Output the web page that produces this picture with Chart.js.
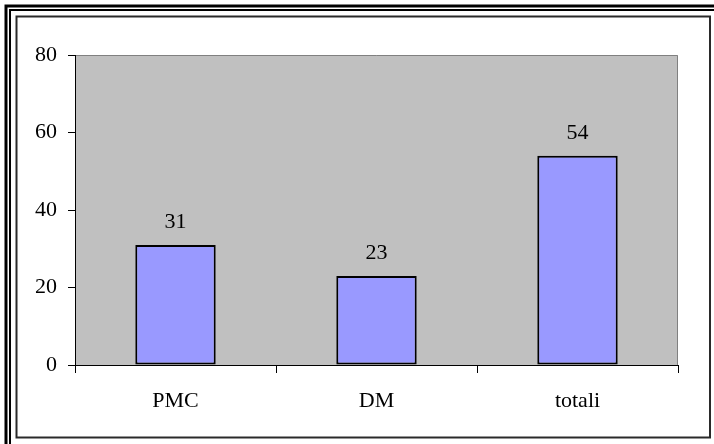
<!DOCTYPE html>
<html>
<head>
<meta charset="utf-8">
<script src="https://cdn.jsdelivr.net/npm/chart.js@4/dist/chart.umd.min.js"></script>
<style>
  html, body { margin: 0; padding: 0; background: #ffffff; }
  #wrap { width: 714px; height: 444px; position: relative; }
</style>
</head>
<body>
<div id="wrap"><canvas id="c" width="714" height="444"></canvas></div>
<script>
// Categories and counts
const categories = ['PMC', 'DM', 'totali'];
const counts = [31, 23, 54];
const yTicks = [0, 20, 40, 60, 80];

const FONT = "'Liberation Serif', 'Times New Roman', serif";

// Page frame (double outer rule + thin inner rule) and grey plot background
const framePlugin = {
  id: 'frame',
  beforeDraw(chart) {
    const ctx = chart.ctx;
    const a = chart.chartArea;
    ctx.save();
    ctx.fillStyle = '#ffffff';
    ctx.fillRect(0, 0, chart.width, chart.height);
    // outer double rule
    ctx.strokeStyle = '#000000';
    ctx.lineWidth = 3;
    ctx.strokeRect(6, 6, chart.width + 20, chart.height + 20);
    ctx.lineWidth = 2;
    ctx.strokeRect(10, 10, chart.width + 20, chart.height + 20);
    // inner rule
    ctx.strokeStyle = '#2a2a2a';
    ctx.lineWidth = 2;
    ctx.strokeRect(16.5, 16.5, 693.5, 421);
    // plot area
    ctx.fillStyle = '#c0c0c0';
    ctx.fillRect(a.left, a.top, a.right - a.left, a.bottom - a.top);
    ctx.strokeStyle = '#808080';
    ctx.lineWidth = 1;
    ctx.beginPath();
    ctx.moveTo(a.left, a.top + 0.5);
    ctx.lineTo(a.right - 0.5, a.top + 0.5);
    ctx.lineTo(a.right - 0.5, a.bottom);
    ctx.stroke();
    ctx.restore();
  }
};

// Value written above each bar
const valueLabels = {
  id: 'valueLabels',
  afterDatasetsDraw(chart) {
    const ctx = chart.ctx;
    const meta = chart.getDatasetMeta(0);
    ctx.save();
    ctx.fillStyle = '#000000';
    ctx.font = '22px ' + FONT;
    ctx.textAlign = 'center';
    ctx.textBaseline = 'alphabetic';
    meta.data.forEach((bar, i) => {
      ctx.fillText(String(chart.data.datasets[0].data[i]), bar.x, bar.y - 17);
    });
    ctx.restore();
  }
};

new Chart(document.getElementById('c'), {
  type: 'bar',
  data: {
    labels: categories,
    datasets: [{
      data: counts,
      backgroundColor: '#9999ff',
      borderColor: '#000000',
      borderWidth: 2,
      borderSkipped: false,
      barPercentage: 0.4,
      categoryPercentage: 1.0
    }]
  },
  options: {
    responsive: false,
    animation: false,
    devicePixelRatio: 1,
    layout: { padding: { left: 16, top: 55, right: 36, bottom: 6 } },
    plugins: {
      legend: { display: false },
      tooltip: { enabled: false }
    },
    scales: {
      x: {
        grid: {
          display: true,
          drawOnChartArea: false,
          drawTicks: true,
          tickLength: 8,
          color: '#000000',
          offset: true
        },
        border: { display: true, color: '#000000', width: 1 },
        ticks: {
          color: '#000000',
          font: { family: FONT, size: 22 },
          padding: 15,
          maxRotation: 0
        },
        afterFit(scale) { scale.height = 73; }
      },
      y: {
        min: 0,
        max: 80,
        afterBuildTicks(scale) { scale.ticks = yTicks.map(v => ({ value: v })); },
        grid: {
          display: true,
          drawOnChartArea: false,
          drawTicks: true,
          tickLength: 7,
          color: '#000000'
        },
        border: { display: true, color: '#000000', width: 1 },
        ticks: {
          color: '#000000',
          font: { family: FONT, size: 22 },
          padding: 11
        },
        afterFit(scale) { scale.width = 59; }
      }
    }
  },
  plugins: [framePlugin, valueLabels]
});
</script>
</body>
</html>
